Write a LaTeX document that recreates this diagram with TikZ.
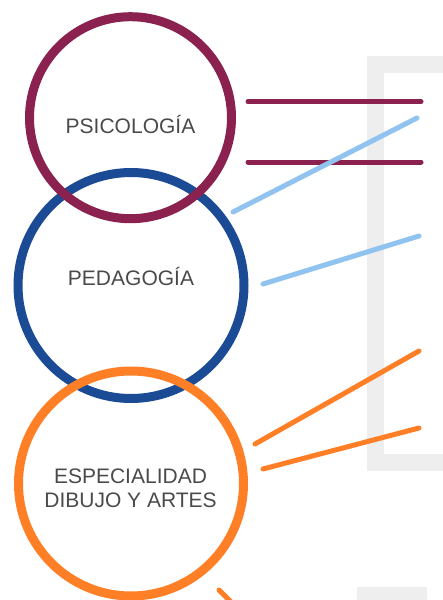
\documentclass[tikz,border=0pt]{standalone}
\usepackage{fontspec}
\setmainfont{Liberation Sans}
\definecolor{psipurple}{HTML}{8A214F}
\definecolor{pedblue}{HTML}{1B4B95}
\definecolor{espoorange}{HTML}{FF7F27}
\definecolor{rayblue}{HTML}{90C3EF}
\definecolor{bargray}{HTML}{EEEEEE}
\definecolor{textgray}{HTML}{4A4A4A}

\begin{document}
\begin{tikzpicture}[x=1pt, y=-1pt,
        ring/.style = {draw, circle, line width=9pt, inner sep=0pt},
        topic/.style = {text=textgray, font=\fontsize{21}{24}\selectfont, align=center, anchor=base},
        ray/.style = {line width=5pt, line cap=round},
        bracket/.style = {draw=bargray, line width=17pt}
        ]
        \useasboundingbox (0,0) rectangle (443,600);

        % grey frame on the right
        \draw[bracket] (443,64) -- (375,64) -- (375,462.5) -- (443,462.5);
        \fill[bargray] (357,587) rectangle (427,600);

        \node[ring, draw=pedblue, minimum size=226pt] (ped) at (131,285.5) {};
        \node[ring, draw=espoorange, minimum size=225pt] (esp) at (131,483.5) {};
        \node[ring, draw=psipurple, minimum size=202pt] (psi) at (130.5,117.7) {};

        \node[topic] (psi-t) at (130.5,133.5) {PSICOLOGÍA};
        \node[topic] (ped-t) at (131,285) {PEDAGOGÍA};
        \node[topic] (esp-t) at (130.5,507) {ESPECIALIDAD\\DIBUJO Y ARTES};

        % ends of the rays
        \coordinate (p1a) at (248,101.7);  \coordinate (p1b) at (421,101.7);
        \coordinate (p2a) at (248,162);    \coordinate (p2b) at (421,162);
        \coordinate (b1a) at (233,212);    \coordinate (b1b) at (417,118);
        \coordinate (b2a) at (263,284);    \coordinate (b2b) at (419,236);
        \coordinate (o1a) at (255,444);    \coordinate (o1b) at (419,351);
        \coordinate (o2a) at (263,469);    \coordinate (o2b) at (419,428);
        \coordinate (o3a) at (219,590);    \coordinate (o3b) at (233,604);

        \draw[ray, psipurple] (p1a) -- (p1b);
        \draw[ray, psipurple] (p2a) -- (p2b);
        \draw[ray, rayblue]   (b1a) -- (b1b);
        \draw[ray, rayblue]   (b2a) -- (b2b);
        \draw[ray, espoorange] (o1a) -- (o1b);
        \draw[ray, espoorange] (o2a) -- (o2b);
        \draw[ray, espoorange] (o3a) -- (o3b);

    \end{tikzpicture}
\end{document}
